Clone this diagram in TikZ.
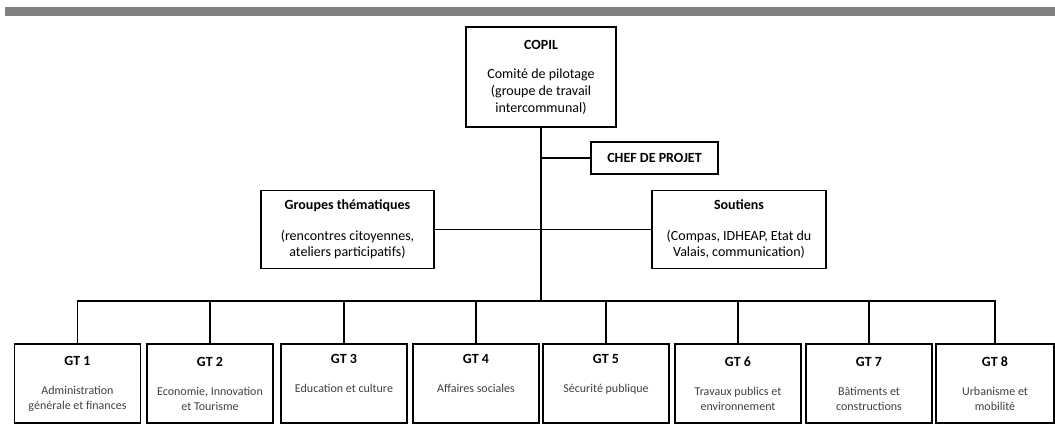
\documentclass[tikz,border=0pt]{standalone}
\usepackage{fontspec}
\setmainfont{Carlito}

\begin{document}
\begin{tikzpicture}[x=1pt,y=-1pt,
  box/.style={draw, line width=1.5pt, inner sep=0pt, align=center},
  gtbox/.style={box, text=black!75, minimum height=79pt, font=\fontsize{12}{15}\selectfont},
  link/.style={line width=1.5pt}]
\useasboundingbox (0,0) rectangle (1055,432);
\fill[black!50] (5,7) rectangle (1055,16);

% top of the chart
\node[box, minimum width=150pt, minimum height=100pt, font=\fontsize{14}{17}\selectfont] (copil) at (541,77)
  {\textbf{COPIL}\\[12pt] Comité de pilotage\\(groupe de travail\\intercommunal)};
\node[box, minimum width=127pt, minimum height=32pt, font=\fontsize{14}{17}\selectfont\bfseries] (chef) at (654.5,158) {CHEF DE PROJET};
\node[box, minimum width=173pt, minimum height=78pt, font=\fontsize{14}{16.5}\selectfont] (groupes) at (347.5,229.5)
  {\textbf{Groupes thématiques}\\[14pt] (rencontres citoyennes,\\ateliers participatifs)};
\node[box, minimum width=174pt, minimum height=78pt, font=\fontsize{14}{16.5}\selectfont] (soutiens) at (739,229.5)
  {\textbf{Soutiens}\\[14pt] (Compas, IDHEAP, Etat du\\Valais, communication)};

% working groups
\foreach \i/\x/\w/\txt in {
  1/77.5/126/{Administration\\générale et finances},
  2/210/126/{Economie, Innovation\\et Tourisme},
  3/344/126/{Education et culture\\\strut},
  4/476/126/{Affaires sociales\\\strut},
  5/606/126/{Sécurité publique\\\strut},
  6/738/126/{Travaux publics et\\environnement},
  7/869/126/{Bâtiments et\\constructions},
  8/995/118/{Urbanisme et\\mobilité}}
  \node[gtbox, minimum width=\w pt] (gt\i) at (\x,383.5)
    {{\fontsize{14}{15}\selectfont\bfseries\color{black}GT \i}\\[14pt] \txt};

\coordinate (bus) at (541,301);
\draw[link] (copil.south) -- (bus);
\draw[link] (chef.west) -- (chef.west -| copil.south);
\draw[link] (groupes.east) -- (soutiens.west);
\draw[link] (gt1.north) |- (bus) -| (gt8.north);
\foreach \i in {2,...,7}
  \draw[link] (gt\i.north) -- (gt\i.north |- bus);
\end{tikzpicture}
\end{document}
